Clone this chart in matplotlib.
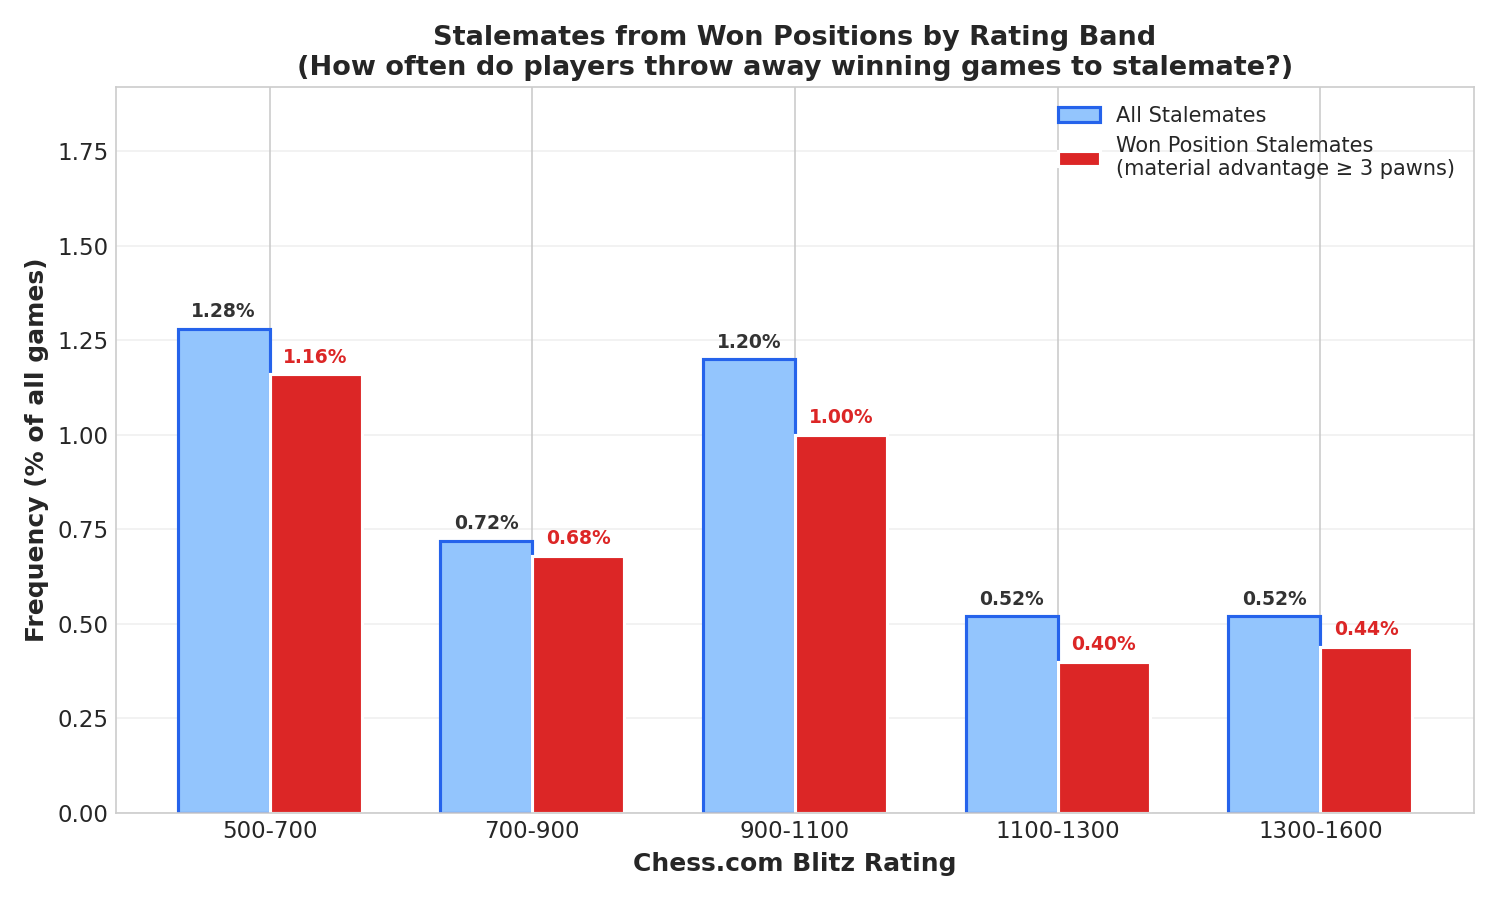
import matplotlib
matplotlib.use('Agg')
import matplotlib.pyplot as plt
import seaborn as sns
import numpy as np

# data
bands = ['500-700', '700-900', '900-1100', '1100-1300', '1300-1600']
all_stalemates = [1.28, 0.72, 1.20, 0.52, 0.52]
won_stalemates = [1.16, 0.68, 1.00, 0.40, 0.44]

sns.set_style('whitegrid')
plt.rcParams['font.family'] = ['DejaVu Sans']

fig, ax = plt.subplots(figsize=(10, 6), dpi=150)
x = np.arange(len(bands))
w = 0.35

b1 = ax.bar(x - w/2, all_stalemates, w, color='#93c5fd', edgecolor='#2563eb',
            linewidth=1.5, label='All Stalemates')
b2 = ax.bar(x + w/2, won_stalemates, w, color='#dc2626', edgecolor='white',
            linewidth=1.5, label='Won Position Stalemates\n(material advantage \u2265 3 pawns)')

for bar, v in zip(b1, all_stalemates):
    ax.text(bar.get_x() + bar.get_width()/2, v + 0.02, f'{v:.2f}%',
            ha='center', va='bottom', fontsize=9, fontweight='bold', color='#333333')
for bar, v in zip(b2, won_stalemates):
    ax.text(bar.get_x() + bar.get_width()/2, v + 0.02, f'{v:.2f}%',
            ha='center', va='bottom', fontsize=9, fontweight='bold', color='#dc2626')

ax.set_xticks(x)
ax.set_xticklabels(bands, fontsize=11)
ax.tick_params(axis='y', labelsize=11)
ax.tick_params(length=0)
ax.set_ylim(0, max(all_stalemates) * 1.5)
ax.set_xlabel('Chess.com Blitz Rating', fontsize=12, fontweight='bold')
ax.set_ylabel('Frequency (% of all games)', fontsize=12, fontweight='bold')
ax.set_title('Stalemates from Won Positions by Rating Band\n(How often do players throw away winning games to stalemate?)',
             fontsize=13, fontweight='bold', color='#262626')
ax.grid(axis='y', alpha=0.3)
ax.legend(loc='upper right', fontsize=10, frameon=False)

plt.subplots_adjust(left=0.0773, right=0.9827, top=0.9033, bottom=0.0967)
plt.savefig('out.png', dpi=150)
